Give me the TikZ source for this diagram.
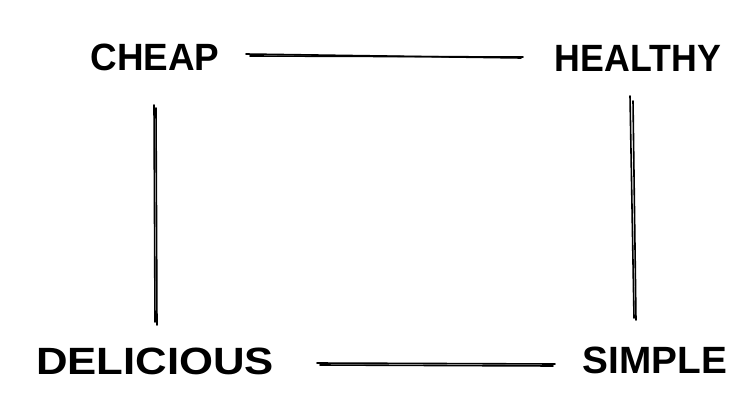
\documentclass[tikz,border=0pt]{standalone}
\usepackage{fontspec}
\setmainfont{Liberation Sans}
\begin{document}
\begin{tikzpicture}[x=1pt,y=-1pt,
  label/.style={inner sep=0pt,outer sep=0pt,anchor=center,font=\fontsize{38}{38}\selectfont\bfseries},
  sketch/.style={line width=1.6pt,line cap=round,black}]
\useasboundingbox (0,0) rectangle (754,417);
\node[label] (cheap) at (155,57) {\scalebox{0.97}[1]{CHEAP}};
\node[label] (healthy) at (638,58) {\scalebox{0.94}[1]{HEALTHY}};
\node[label] (delicious) at (155,361) {\scalebox{1.15}[1]{DELICIOUS}};
\node[label] (simple) at (655,360) {\scalebox{1.02}[1]{SIMPLE}};
% connector end points
\coordinate (t1a) at (246,54); \coordinate (t1b) at (521,58);
\coordinate (t2a) at (250,56); \coordinate (t2b) at (523,57);
\coordinate (b1a) at (317,363); \coordinate (b1b) at (555,364);
\coordinate (b2a) at (320,365); \coordinate (b2b) at (553,366);
\coordinate (l1a) at (154,105); \coordinate (l1b) at (155,322);
\coordinate (l2a) at (156,108); \coordinate (l2b) at (157,325);
\coordinate (r1a) at (630,96); \coordinate (r1b) at (634,318);
\coordinate (r2a) at (633,101); \coordinate (r2b) at (636,320);
\draw[sketch] (t1a) -- (t1b);
\draw[sketch] (t2a) -- (t2b);
\draw[sketch] (b1a) -- (b1b);
\draw[sketch] (b2a) -- (b2b);
\draw[sketch] (l1a) -- (l1b);
\draw[sketch] (l2a) -- (l2b);
\draw[sketch] (r1a) -- (r1b);
\draw[sketch] (r2a) -- (r2b);
\end{tikzpicture}
\end{document}
